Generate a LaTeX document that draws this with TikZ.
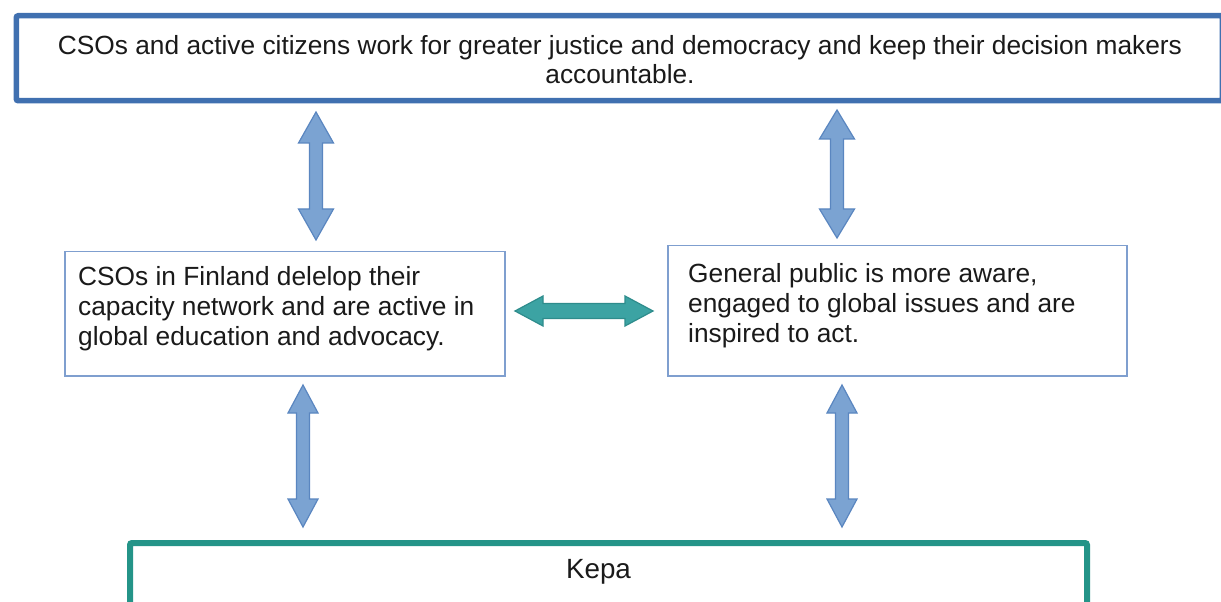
\documentclass[tikz,border=0pt]{standalone}
\usepackage{fontspec}
\setmainfont{Liberation Sans}
\usetikzlibrary{calc}
\definecolor{topblue}{HTML}{4070B0}
\definecolor{boxblue}{HTML}{7F9FCF}
\definecolor{arrfill}{HTML}{7BA3D2}
\definecolor{arrline}{HTML}{5A86C0}
\definecolor{tealfill}{HTML}{3CA3A3}
\definecolor{tealline}{HTML}{2E8C8C}
\definecolor{kepateal}{HTML}{249488}
\definecolor{txt}{HTML}{1A1A1A}
\newcommand\vdarrow[6]{%
  \filldraw[#1] (#2) -- ($(#2)+(#4,#6)$) -- ($(#2)+(#5,#6)$) -- ($(#3)+(#5,-#6)$) -- ($(#3)+(#4,-#6)$) -- (#3)
   -- ($(#3)+(-#4,-#6)$) -- ($(#3)+(-#5,-#6)$) -- ($(#2)+(-#5,#6)$) -- ($(#2)+(-#4,#6)$) -- cycle;}
\newcommand\hdarrow[6]{%
  \filldraw[#1] (#2) -- ($(#2)+(#6,-#4)$) -- ($(#2)+(#6,-#5)$) -- ($(#3)+(-#6,-#5)$) -- ($(#3)+(-#6,-#4)$) -- (#3)
   -- ($(#3)+(-#6,#4)$) -- ($(#3)+(-#6,#5)$) -- ($(#2)+(#6,#5)$) -- ($(#2)+(#6,#4)$) -- cycle;}
\tikzset{
  bigbox/.style={draw=topblue, line width=5.5bp, rounded corners=2bp, fill=white, inner sep=0pt},
  midbox/.style={draw=boxblue, line width=1.5bp, fill=white, inner sep=0pt},
  kepabox/.style={draw=kepateal, line width=6bp, rounded corners=2bp, inner sep=0pt},
  bodytext/.style={text=txt, inner sep=0pt, font=\fontsize{26.3bp}{30bp}\selectfont},
  bluearrow/.style={fill=arrfill, draw=arrline, line width=1.2bp},
  tealarrow/.style={fill=tealfill, draw=tealline, line width=1.2bp},
}
\begin{document}
\begin{tikzpicture}[x=1bp,y=-1bp]
\useasboundingbox (0,0) rectangle (1221,602);
\fill[white] (0,0) rectangle (1221,602);
\clip (0,0) rectangle (1221,602);
% boxes
\node[bigbox, anchor=north west, minimum width=1206bp, minimum height=85bp] (top) at (13.5,13) {};
\node[bodytext, anchor=north, align=center, font=\fontsize{26.3bp}{29bp}\selectfont] (toptext) at (620,35)
  {CSOs and active citizens work for greater justice and democracy and keep their decision makers\\accountable.};
\node[midbox, anchor=north west, minimum width=440bp, minimum height=124bp] (left) at (64,251) {};
\node[bodytext, anchor=north west, align=left] (lefttext) at (78,266.5)
  {CSOs in Finland delelop their\\capacity network and are active in\\global education and advocacy.};
\node[midbox, anchor=north west, minimum width=459bp, minimum height=130bp] (right) at (667,245) {};
\node[bodytext, anchor=north west, align=left] (righttext) at (688,263)
  {General public is more aware,\\engaged to global issues and are\\inspired to act.};
\node[kepabox, anchor=north west, minimum width=957bp, minimum height=120bp] (kepa) at (127,540) {};
\node[bodytext, anchor=base, font=\fontsize{27.8bp}{30bp}\selectfont] (kepatext) at (598.5,578) {Kepa};
% arrow end points
\coordinate (a1t) at (316,112);   \coordinate (a1b) at (316,240);
\coordinate (a2t) at (837,110);   \coordinate (a2b) at (837,238);
\coordinate (a3t) at (303,385);   \coordinate (a3b) at (303,527);
\coordinate (a4t) at (842,385);   \coordinate (a4b) at (842,527);
\coordinate (hl) at (515,311);    \coordinate (hr) at (653,311);
% arrows
\vdarrow{bluearrow}{a1t}{a1b}{17.5}{6.5}{31}
\vdarrow{bluearrow}{a2t}{a2b}{17.5}{6.5}{29}
\vdarrow{bluearrow}{a3t}{a3b}{15}{6.5}{28}
\vdarrow{bluearrow}{a4t}{a4b}{15}{6.5}{28}
\hdarrow{tealarrow}{hl}{hr}{15}{7.5}{28}
\end{tikzpicture}
\end{document}
